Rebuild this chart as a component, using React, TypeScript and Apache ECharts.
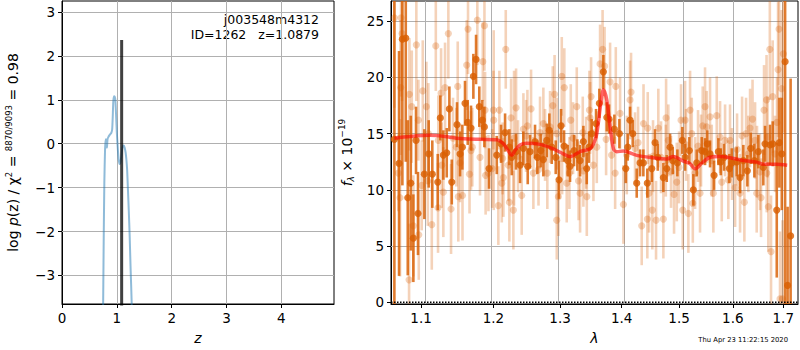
import React, { useEffect, useRef } from "react";
import * as echarts from "echarts";

// ---------- left panel: log p(z) ----------
const pzZ = [0.742, 0.752, 0.762, 0.772, 0.785, 0.797, 0.81, 0.82, 0.83, 0.845, 0.87, 0.9, 0.915, 0.925, 0.935, 0.948, 0.96, 0.973, 0.988, 1.0, 1.017, 1.034, 1.05, 1.067, 1.083, 1.1, 1.112, 1.128, 1.143, 1.16, 1.174, 1.188, 1.2, 1.217, 1.234, 1.25, 1.27, 1.285];
const pzLogP = [-5.0, -3.4, -2.0, -0.9, -0.13, 0.1, 0.08, -0.09, 0.1, 0.15, 0.2, 0.25, 0.33, 0.6, 0.95, 1.08, 1.07, 1.0, 0.6, 0.25, -0.1, -0.36, -0.46, -0.42, -0.28, -0.1, -0.05, -0.04, -0.09, -0.2, -0.36, -0.6, -0.97, -1.5, -2.1, -2.8, -3.6, -5.0];
const zBest = 1.0879;
const zBestTop = 2.36;
const zTicks = [0, 1, 2, 3, 4];
const logpTicks = [-3, -2, -1, 0, 1, 2, 3];

// ---------- right panel: spectrum ----------
const lamTicks = [1.1, 1.2, 1.3, 1.4, 1.5, 1.6, 1.7];
const fluxTicks = [0, 5, 10, 15, 20, 25];

const darkLam = [1.0653, 1.0713, 1.0756, 1.08, 1.0826, 1.0865, 1.0899, 1.0934, 1.096, 1.1044, 1.1102, 1.115, 1.1223, 1.1258, 1.1299, 1.1345, 1.1381, 1.1414, 1.1486, 1.1528, 1.156, 1.1597, 1.1635, 1.1681, 1.1714, 1.1752, 1.1798, 1.1841, 1.187, 1.1937, 1.2048, 1.211, 1.2169, 1.2232, 1.2267, 1.233, 1.239, 1.2439, 1.2505, 1.254, 1.2615, 1.265, 1.2702, 1.2742, 1.2794, 1.2834, 1.2871, 1.2933, 1.2984, 1.3016, 1.3063, 1.3121, 1.3157, 1.3221, 1.3273, 1.3317, 1.337, 1.3424, 1.3461, 1.3505, 1.3575, 1.3629, 1.3695, 1.3751, 1.3789, 1.3877, 1.3961, 1.4069, 1.4102, 1.4141, 1.4187, 1.4255, 1.4312, 1.4369, 1.4438, 1.4515, 1.4573, 1.462, 1.4719, 1.4779, 1.4838, 1.4886, 1.4969, 1.5059, 1.5108, 1.5186, 1.5259, 1.5321, 1.5414, 1.5475, 1.5518, 1.5568, 1.5644, 1.5725, 1.577, 1.5833, 1.5934, 1.598, 1.6076, 1.614, 1.6204, 1.6282, 1.6349, 1.642, 1.6499, 1.6598, 1.6632, 1.6732, 1.6787, 1.6868, 1.6921, 1.697, 1.7038, 1.7089, 1.7151];
const darkFlux = [14.5, 12.35, 23.4, 23.5, 9.3, 10.6, 5.7, 14.4, 7.9, 11.4, 13.2, 11.4, 10.7, 16.4, 13.1, 13.3, 17.2, 10.7, 15.8, 13.2, 13.8, 17.7, 16.0, 15.5, 20.1, 21.6, 17.4, 16.2, 15.6, 11.9, 13.1, 14.1, 15.1, 13.8, 12.9, 13.4, 12.2, 13.7, 12.1, 13.4, 14.3, 12.9, 13.5, 12.7, 14.4, 15.3, 13.8, 12.9, 10.9, 15.7, 13.9, 12.6, 12.1, 13.5, 13.1, 12.6, 14.3, 11.9, 13.8, 15.0, 15.9, 17.7, 20.5, 16.5, 16.3, 15.4, 15.0, 11.9, 13.8, 16.2, 15.0, 10.6, 12.4, 12.4, 10.6, 11.9, 14.2, 12.9, 11.1, 11.9, 13.8, 12.6, 12.4, 14.4, 12.9, 13.5, 10.0, 12.4, 13.5, 13.4, 14.1, 13.2, 11.3, 13.4, 12.5, 12.9, 11.9, 12.4, 12.5, 11.1, 12.6, 11.7, 13.7, 12.6, 13.4, 12.0, 14.1, 14.0, 14.1, 8.2, 14.2, 13.2, 21.4, 1.5, 5.9];
const darkErr = [16, 10, 13, 11, 6.9, 6, 3.9, 3, 3.7, 4, 3, 3, 2.5, 2, 2.2, 2.2, 2, 2, 2, 2, 2, 2, 2, 2, 2, 2.2, 1.8, 1.8, 1.8, 1.8, 1.7, 1.7, 1.7, 1.6, 1.6, 1.6, 1.6, 1.5, 1.6, 1.5, 1.5, 1.5, 1.5, 1.5, 1.5, 1.5, 1.5, 1.5, 1.7, 1.5, 1.4, 1.4, 1.4, 1.4, 1.4, 1.4, 1.4, 1.4, 1.4, 1.3, 1.3, 1.3, 1.5, 1.3, 1.3, 1.3, 1.3, 1.3, 1.2, 1.2, 1.2, 1.3, 1.2, 1.2, 1.3, 1.2, 1.2, 1.2, 1.3, 1.2, 1.2, 1.2, 1.2, 1.2, 1.2, 1.2, 1.4, 1.2, 1.2, 1.2, 1.2, 1.2, 1.3, 1.2, 1.2, 1.2, 1.3, 1.3, 1.3, 1.4, 1.4, 1.4, 1.4, 1.5, 1.5, 1.6, 1.6, 1.8, 2.0, 6.0, 4.0, 5.0, 25, 7, 14];

const lightLam = [1.0653, 1.0726, 1.0739, 1.0752, 1.0735, 1.0843, 1.0847, 1.0878, 1.0899, 1.0938, 1.097, 1.1009, 1.1023, 1.1071, 1.109, 1.1143, 1.1197, 1.1227, 1.1268, 1.1299, 1.1322, 1.1367, 1.1404, 1.1496, 1.1504, 1.1562, 1.1621, 1.1639, 1.166, 1.1681, 1.177, 1.1848, 1.1871, 1.1888, 1.1981, 1.2, 1.2071, 1.2086, 1.2121, 1.2145, 1.2179, 1.2232, 1.2257, 1.2291, 1.2331, 1.2415, 1.2555, 1.2887, 1.2915, 1.2949, 1.2974, 1.3027, 1.3067, 1.3105, 1.3264, 1.3293, 1.3317, 1.3425, 1.3467, 1.3494, 1.3641, 1.3682, 1.3715, 1.3806, 1.3901, 1.4029, 1.4086, 1.4141, 1.4158, 1.4341, 1.4372, 1.4438, 1.4468, 1.4525, 1.459, 1.463, 1.4719, 1.4767, 1.4909, 1.4958, 1.5066, 1.5108, 1.5168, 1.5199, 1.5249, 1.5382, 1.5432, 1.5475, 1.5568, 1.563, 1.5694, 1.5789, 1.5914, 1.6044, 1.614, 1.6179, 1.6224, 1.6335, 1.6384, 1.6466, 1.6552, 1.6612, 1.6662, 1.6698, 1.6728, 1.6752, 1.6786, 1.6914, 1.6894, 1.6934, 1.6965, 1.6986, 1.7002,
  1.2004, 1.244, 1.25, 1.2691, 1.2742, 1.2845, 1.2949, 1.3169, 1.336, 1.3478, 1.2133, 1.2216, 1.259, 1.2668, 1.2803, 1.3147, 1.337, 1.3532, 1.3587, 1.3831, 1.389, 1.3973, 1.4226, 1.4445, 1.4762, 1.4807, 1.4855, 1.5035, 1.4999, 1.523, 1.5291, 1.5401, 1.5506, 1.56, 1.5757, 1.5852, 1.5947, 1.6082, 1.6257, 1.6301, 1.6434, 1.6532, 1.6666, 1.6682, 1.0965, 1.1097, 1.1231, 1.1277, 1.1431, 1.1477, 1.1527, 1.1699, 1.1808, 1.188, 1.1928, 1.0704, 1.2301, 1.236, 1.248, 1.2768, 1.3032, 1.3205, 1.3414, 1.374, 1.4278, 1.4537, 1.4678, 1.5126, 1.5345, 1.5985, 1.6472, 1.6833, 1.6873];
const lightFlux = [25.3, 9.3, 25.3, 23.9, 19.1, 2.0, 18.5, 17.4, 6.8, 22.9, 6.0, 10.4, 18.8, 17.4, 10.8, 6.9, 22.8, 8.4, 18.6, 9.8, 19.1, 23.9, 8.3, 19.2, 9.4, 9.5, 21.1, 24.3, 11.4, 13.5, 25.1, 21.4, 24.6, 11.3, 11.9, 17.1, 8.6, 17.1, 10.6, 11.1, 22.5, 8.9, 16.4, 8.2, 17.3, 9.5, 17.2, 17.5, 18.5, 7.3, 9.4, 20.1, 19.1, 10.6, 17.4, 10.8, 9.7, 9.4, 17.1, 18.3, 21.2, 22.5, 21.0, 19.6, 19.2, 8.7, 13.1, 18.0, 18.7, 6.8, 15.9, 7.4, 9.7, 8.2, 7.3, 15.5, 7.4, 16.4, 9.6, 10.7, 8.2, 16.2, 7.9, 17.1, 8.8, 9.7, 15.7, 17.4, 16.5, 9.7, 16.6, 10.7, 10.9, 10.2, 9.7, 14.8, 8.9, 15.5, 16.3, 9.7, 9.3, 17.1, 18.0, 8.5, 22.5, 4.5, 18.3, 24.3, 20.7, 0.3, 19.0, 0.3, 22.1,
  16.2, 15.4, 15.7, 15.1, 15.9, 15.6, 15.0, 16.2, 15.1, 16.4, 12.8, 12.2, 11.5, 11.8, 11.5, 11.5, 11.7, 12.2, 13.8, 13.1, 11.5, 16.8, 13.7, 15.5, 12.6, 14.4, 11.6, 16.2, 12.0, 15.0, 11.5, 13.5, 15.6, 12.6, 14.7, 14.4, 14.4, 13.6, 15.0, 13.2, 14.4, 11.6, 11.5, 14.7, 16.2, 15.0, 14.4, 12.2, 14.6, 13.8, 12.4, 13.8, 12.9, 17.1, 11.5, 11.5, 14.6, 13.0, 14.8, 14.0, 12.8, 14.6, 13.3, 14.5, 14.2, 13.0, 12.9, 14.0, 13.9, 12.3, 12.5, 13.2, 16.0];
const lightErr = [8, 7, 7, 6, 6, 5, 5, 5, 4.5, 5, 4, 4, 4.5, 4, 4, 4, 4, 4, 4, 4, 4, 4, 4, 4, 4, 4, 4, 4, 3.5, 3.5, 4, 3.5, 4, 3.5, 3.5, 3.5, 3.5, 3.5, 3.5, 3.5, 3.5, 3.5, 3.5, 3.5, 3.5, 3.5, 3.5, 3.5, 3.5, 3.5, 3.5, 3.5, 3.5, 3.5, 3.5, 3.5, 3.5, 3.5, 3.5, 3.5, 3.5, 3.5, 3.5, 3.5, 3.5, 3.5, 3.5, 3.5, 3.5, 3.5, 3.5, 3.5, 3.5, 3.5, 3.5, 3.5, 3.5, 3.5, 3.5, 3.5, 3.5, 3.5, 3.5, 3.5, 3.5, 3.5, 3.5, 3.5, 3.5, 3.5, 3.5, 3.5, 3.5, 3.5, 3.5, 3.5, 3.5, 3.5, 3.5, 3.5, 3.5, 4, 4, 4, 4.5, 5, 5, 5, 6, 6, 7, 7, 7, 8,
  3.2, 3.2, 3.2, 3.2, 3.2, 3.2, 3.2, 3.2, 3.2, 3.2, 3.2, 3.2, 3.2, 3.2, 3.2, 3.2, 3.2, 3.2, 3.2, 3.2, 3.2, 3.2, 3.2, 3.2, 3.2, 3.2, 3.2, 3.2, 3.2, 3.2, 3.2, 3.2, 3.2, 3.2, 3.2, 3.2, 3.2, 3.2, 3.4, 3.4, 3.4, 3.5, 3.6, 3.6, 4.5, 4, 3.8, 3.6, 3.5, 3.5, 3.5, 3.4, 3.4, 3.4, 3.4, 6, 3.2, 3.2, 3.2, 3.2, 3.2, 3.2, 3.2, 3.2, 3.2, 3.2, 3.2, 3.2, 3.2, 3.2, 3.4, 4, 4.5];

const modelLam = [1.0653, 1.0856, 1.112, 1.1322, 1.1477, 1.1808, 1.2047, 1.2145, 1.2213, 1.2267, 1.2316, 1.239, 1.249, 1.2691, 1.2896, 1.3051, 1.3158, 1.3317, 1.3478, 1.3543, 1.3587, 1.3653, 1.3695, 1.3751, 1.3806, 1.3862, 1.3918, 1.4029, 1.4255, 1.4541, 1.4779, 1.4896, 1.5077, 1.5199, 1.5291, 1.5414, 1.5568, 1.5757, 1.5947, 1.6204, 1.6466, 1.6598, 1.6868, 1.7081];
const modelFlux = [14.6, 14.75, 14.85, 14.75, 14.6, 14.5, 14.46, 14.1, 13.5, 13.07, 13.5, 14.0, 14.15, 14.05, 13.65, 13.2, 12.95, 13.4, 13.65, 14.2, 15.0, 17.7, 18.9, 18.0, 15.6, 13.65, 13.4, 13.45, 13.07, 12.86, 12.75, 12.98, 12.56, 12.33, 11.88, 12.38, 12.9, 12.98, 12.86, 12.62, 12.47, 12.27, 12.27, 12.2];

const zeroLam = [1.061, 1.7304];
const zeroFlux = [0, 0];

const lamMin = 1.061;
const lamMax = 1.7304;

const FONT = "DejaVu Sans";
const ORANGE = "#d95f02";
const GRID = "#b0b0b0";

function errRender(color: string, opacity: number, lw: number, r: number) {
  return (params: any, api: any) => {
    const x = api.value(0);
    const y = api.value(1);
    const e = api.value(2);
    const cs = params.coordSys;
    const c = api.coord([x, y]);
    const t = api.coord([x, y + e]);
    const b = api.coord([x, y - e]);
    const y1 = Math.max(cs.y, t[1]);
    const y2 = Math.min(cs.y + cs.height, b[1]);
    const children: any[] = [];
    if (y2 > y1) {
      children.push({
        type: "line",
        shape: { x1: c[0], y1, x2: c[0], y2 },
        style: { stroke: color, lineWidth: lw, opacity },
      });
    }
    if (c[1] >= cs.y - r && c[1] <= cs.y + cs.height + r) {
      children.push({
        type: "circle",
        shape: { cx: c[0], cy: c[1], r },
        style: { fill: color, opacity },
      });
    }
    return { type: "group", children };
  };
}

const minus = (v: number) => String(v).replace("-", "\u2212");

function gridLines(xIdx: number, xVals: number[], yVals: number[]) {
  return {
    type: "scatter",
    xAxisIndex: xIdx,
    yAxisIndex: xIdx,
    data: [],
    silent: true,
    z: 1,
    markLine: {
      silent: true,
      z: 1,
      symbol: ["none", "none"],
      label: { show: false },
      emphasis: { disabled: true },
      lineStyle: { color: GRID, width: 1, type: "solid" },
      data: [...xVals.map((v) => ({ xAxis: v })), ...yVals.map((v) => ({ yAxis: v }))],
    },
  };
}

export default function App() {
  const ref = useRef<HTMLDivElement>(null);
  useEffect(() => {
    const chart = echarts.init(ref.current!, null, { renderer: "svg" });
    const axisLabel = { fontFamily: FONT, fontSize: 13.5, color: "#000", margin: 7 };
    const axisTick = { show: true, inside: false, length: 4, lineStyle: { color: "#000", width: 1 } };
    const axisLine = { show: true, onZero: false, lineStyle: { color: "#000", width: 1 } };
    const splitLine = { show: false };

    const lamTickLog = lamTicks.map((v) => Math.log(v));
    const lightData = lightLam.map((l, i) => [Math.log(l), lightFlux[i], lightErr[i]]);
    const darkData = darkLam.map((l, i) => [Math.log(l), darkFlux[i], darkErr[i]]);

    const option: any = {
      animation: false,
      grid: [
        { left: 62, right: 466, top: 1, bottom: 46, show: true, borderColor: "#000", borderWidth: 1, backgroundColor: "transparent" },
        { left: 391, right: 2, top: 1, bottom: 46, show: true, borderColor: "#000", borderWidth: 1, backgroundColor: "transparent" },
      ],
      xAxis: [
        {
          gridIndex: 0, type: "value", min: 0, max: 4.96,
          name: "z", nameLocation: "middle", nameGap: 27,
          nameTextStyle: { fontFamily: FONT, fontSize: 14, fontStyle: "italic", color: "#000" },
          axisLine, axisTick: { ...axisTick, customValues: zTicks },
          axisLabel: { ...axisLabel, customValues: zTicks },
          splitLine,
        },
        {
          gridIndex: 1, type: "value", min: Math.log(lamMin), max: Math.log(lamMax),
          name: "λ", nameLocation: "middle", nameGap: 27,
          nameTextStyle: { fontFamily: FONT, fontSize: 14, fontStyle: "italic", color: "#000" },
          axisLine, axisTick: { ...axisTick, customValues: lamTickLog },
          axisLabel: { ...axisLabel, customValues: lamTickLog, formatter: (v: number) => Math.exp(v).toFixed(1) },
          splitLine,
        },
      ],
      yAxis: [
        {
          gridIndex: 0, type: "value", min: -3.65, max: 3.25,
          name: "{n|log }{i|p}{n|(z) / χ}{s|2}{n| = }{s|8870/9093}{n| = 0.98}",
          nameLocation: "middle", nameGap: 40, nameRotate: 90,
          nameTextStyle: {
            fontFamily: FONT, fontSize: 14, color: "#000",
            rich: {
              n: { fontFamily: FONT, fontSize: 14, color: "#000", lineHeight: 18 },
              i: { fontFamily: FONT, fontSize: 14, fontStyle: "italic", color: "#000", lineHeight: 18 },
              s: { fontFamily: FONT, fontSize: 8.5, color: "#000", verticalAlign: "top", lineHeight: 18 },
            },
          },
          axisLine, axisTick: { ...axisTick, customValues: logpTicks },
          axisLabel: { ...axisLabel, customValues: logpTicks, formatter: (v: number) => minus(v) },
          splitLine,
        },
        {
          gridIndex: 1, type: "value", min: -0.15, max: 26.8,
          name: "{i|f}{b|λ}{n| × 10}{s|−19}",
          nameLocation: "middle", nameGap: 30, nameRotate: 90,
          nameTextStyle: {
            fontFamily: FONT, fontSize: 14, color: "#000",
            rich: {
              n: { fontFamily: FONT, fontSize: 14, color: "#000", lineHeight: 18 },
              i: { fontFamily: FONT, fontSize: 14, fontStyle: "italic", color: "#000", lineHeight: 18 },
              s: { fontFamily: FONT, fontSize: 9, color: "#000", verticalAlign: "top", lineHeight: 18 },
              b: { fontFamily: FONT, fontSize: 9, fontStyle: "italic", color: "#000", verticalAlign: "bottom", lineHeight: 18 },
            },
          },
          axisLine, axisTick: { ...axisTick, customValues: fluxTicks },
          axisLabel: { ...axisLabel, customValues: fluxTicks },
          splitLine,
        },
      ],
      series: [
        gridLines(0, zTicks.filter((v) => v > 0), logpTicks),
        gridLines(1, lamTickLog, fluxTicks.filter((v) => v > 0)),
        {
          type: "line", xAxisIndex: 0, yAxisIndex: 0,
          data: pzZ.map((z, i) => [z, pzLogP[i]]),
          showSymbol: false, smooth: 0.2, clip: true,
          lineStyle: { color: "#1f77b4", width: 2, opacity: 0.5 },
          z: 2,
        },
        {
          type: "line", xAxisIndex: 0, yAxisIndex: 0,
          data: [[zBest, -5], [zBest, zBestTop]],
          showSymbol: false, clip: true,
          lineStyle: { color: "#000", width: 3, opacity: 0.75 },
          z: 3,
        },
        {
          type: "custom", xAxisIndex: 1, yAxisIndex: 1,
          data: lightData,
          encode: { x: 0, y: 1 },
          renderItem: errRender(ORANGE, 0.28, 2.6, 3.6),
          z: 2,
        },
        {
          type: "custom", xAxisIndex: 1, yAxisIndex: 1,
          data: darkData,
          encode: { x: 0, y: 1 },
          renderItem: errRender(ORANGE, 0.82, 2.6, 3.6),
          z: 3,
        },
        {
          type: "line", xAxisIndex: 1, yAxisIndex: 1,
          data: modelLam.map((l, i) => [Math.log(l), modelFlux[i]]),
          showSymbol: false, smooth: 0.3,
          lineStyle: { color: "#ff0000", width: 3.5, opacity: 0.6 },
          z: 4,
        },
        {
          type: "line", xAxisIndex: 1, yAxisIndex: 1,
          data: zeroLam.map((l, i) => [Math.log(l), zeroFlux[i]]),
          showSymbol: false,
          lineStyle: { color: "#000", width: 1.5, type: [1.5, 1.5] },
          z: 5,
        },
      ],
      graphic: [
        {
          type: "text", right: 481, top: 13,
          style: { text: "j003548m4312", fontFamily: FONT, fontSize: 12.5, fill: "#000" },
        },
        {
          type: "text", right: 481, top: 27.5,
          style: { text: "ID=1262   z=1.0879", fontFamily: FONT, fontSize: 12.5, fill: "#000" },
        },
        {
          type: "text", right: 12, top: 336,
          style: { text: "Thu Apr 23 11:22:15 2020", fontFamily: FONT, fontSize: 6.8, fill: "#000" },
        },
      ],
    };
    chart.setOption(option);
    return () => chart.dispose();
  }, []);
  return <div ref={ref} style={{ position: "fixed", left: 0, top: 0, width: 800, height: 350, background: "#fff" }} />;
}
